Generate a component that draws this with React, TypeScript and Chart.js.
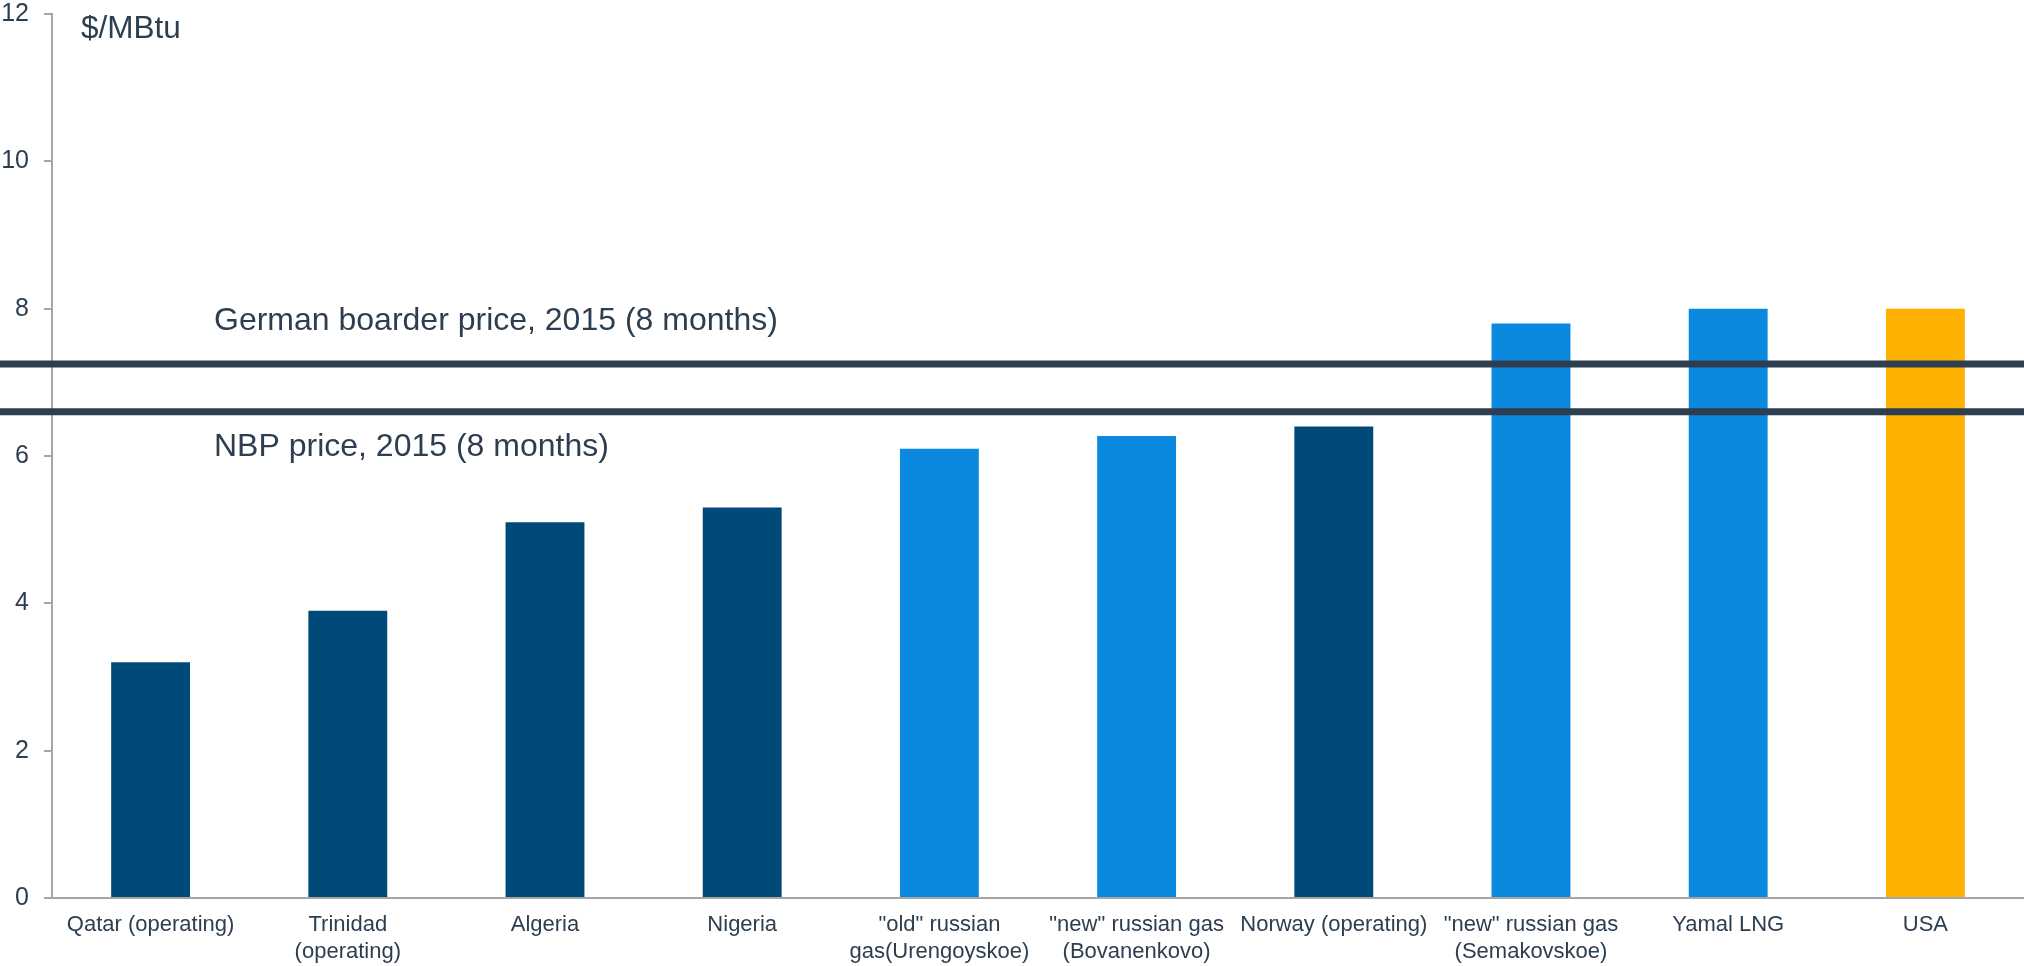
import React, { useEffect, useRef } from "react";
import { Chart, registerables } from "chart.js";

Chart.register(...registerables);

const categories: (string | string[])[] = [
  "Qatar (operating)",
  ["Trinidad", "(operating)"],
  "Algeria",
  "Nigeria",
  ['"old" russian', "gas(Urengoyskoe)"],
  ['"new" russian gas', "(Bovanenkovo)"],
  "Norway (operating)",
  ['"new" russian gas', "(Semakovskoe)"],
  "Yamal LNG",
  "USA",
];

const costValues: number[] = [3.2, 3.9, 5.1, 5.3, 6.1, 6.27, 6.4, 7.8, 8.0, 8.0];

const barColors: string[] = [
  "#004A7A",
  "#004A7A",
  "#004A7A",
  "#004A7A",
  "#0A89DF",
  "#0A89DF",
  "#004A7A",
  "#0A89DF",
  "#0A89DF",
  "#FDB000",
];

const referenceLabels: string[] = [
  "German boarder price, 2015 (8 months)",
  "NBP price, 2015 (8 months)",
];
const referenceValues: number[] = [7.25, 6.6];

const yTicks = { min: 0, max: 12, step: 2 };
const unitLabel = "$/MBtu";

const TEXT = "#2D3E50";
const AXIS = "#A6A6A6";
const FONT = "'Liberation Sans', Arial, sans-serif";

const refLinesPlugin = {
  id: "refLines",
  afterDatasetsDraw(chart: any) {
    const { ctx, chartArea, scales, width } = chart;
    const y = scales.y;
    ctx.save();
    ctx.fillStyle = TEXT;
    ctx.font = `31.5px ${FONT}`;
    ctx.textAlign = "left";
    ctx.textBaseline = "middle";
    ctx.fillText(unitLabel, chartArea.left + 29, chartArea.top + 15);

    referenceValues.forEach((v, i) => {
      const py = y.getPixelForValue(v);
      ctx.strokeStyle = "#2E3E50";
      ctx.lineWidth = 7;
      ctx.beginPath();
      ctx.moveTo(0, py);
      ctx.lineTo(width, py);
      ctx.stroke();
      ctx.fillStyle = TEXT;
      ctx.font = `32px ${FONT}`;
      ctx.textBaseline = "middle";
      const offset = i === 0 ? -43 : 35;
      ctx.fillText(referenceLabels[i], chartArea.left + 162, py + offset);
    });
    ctx.restore();
  },
};

export default function App() {
  const canvasRef = useRef<HTMLCanvasElement | null>(null);

  useEffect(() => {
    if (!canvasRef.current) return;
    const chart = new Chart(canvasRef.current, {
      type: "bar",
      data: {
        labels: categories as any,
        datasets: [
          {
            data: costValues,
            backgroundColor: barColors,
            borderWidth: 0,
            barPercentage: 0.4,
            categoryPercentage: 1,
          },
        ],
      },
      options: {
        animation: false,
        responsive: false,
        maintainAspectRatio: false,
        layout: { padding: { left: 0, right: 0, top: 0, bottom: 0 } },
        plugins: {
          legend: { display: false },
          tooltip: { enabled: false },
        },
        scales: {
          x: {
            grid: { display: false, drawTicks: false },
            border: { display: true, color: AXIS, width: 2 },
            ticks: {
              color: TEXT,
              font: { family: FONT, size: 22, lineHeight: 1.25 },
              padding: 13,
              maxRotation: 0,
              minRotation: 0,
              autoSkip: false,
            },
            afterFit(scale: any) {
              scale.height = 68;
              scale.paddingLeft = 0;
              scale.paddingRight = 0;
            },
          },
          y: {
            min: yTicks.min,
            max: yTicks.max,
            ticks: {
              stepSize: yTicks.step,
              color: TEXT,
              font: { family: FONT, size: 25 },
              padding: 15,
            },
            grid: {
              drawOnChartArea: false,
              drawTicks: true,
              tickLength: 8,
              color: AXIS,
              lineWidth: 2,
            },
            border: { display: true, color: AXIS, width: 2 },
            afterFit(scale: any) {
              scale.width = 52;
              scale.paddingTop = 14;
              scale.paddingBottom = 0;
            },
          },
        },
      },
      plugins: [refLinesPlugin],
    });
    return () => chart.destroy();
  }, []);

  return (
    <div style={{ position: "fixed", left: 0, top: 0, width: 2024, height: 966, background: "#fff" }}>
      <canvas ref={canvasRef} width={2024} height={966} style={{ width: 2024, height: 966 }} />
    </div>
  );
}
